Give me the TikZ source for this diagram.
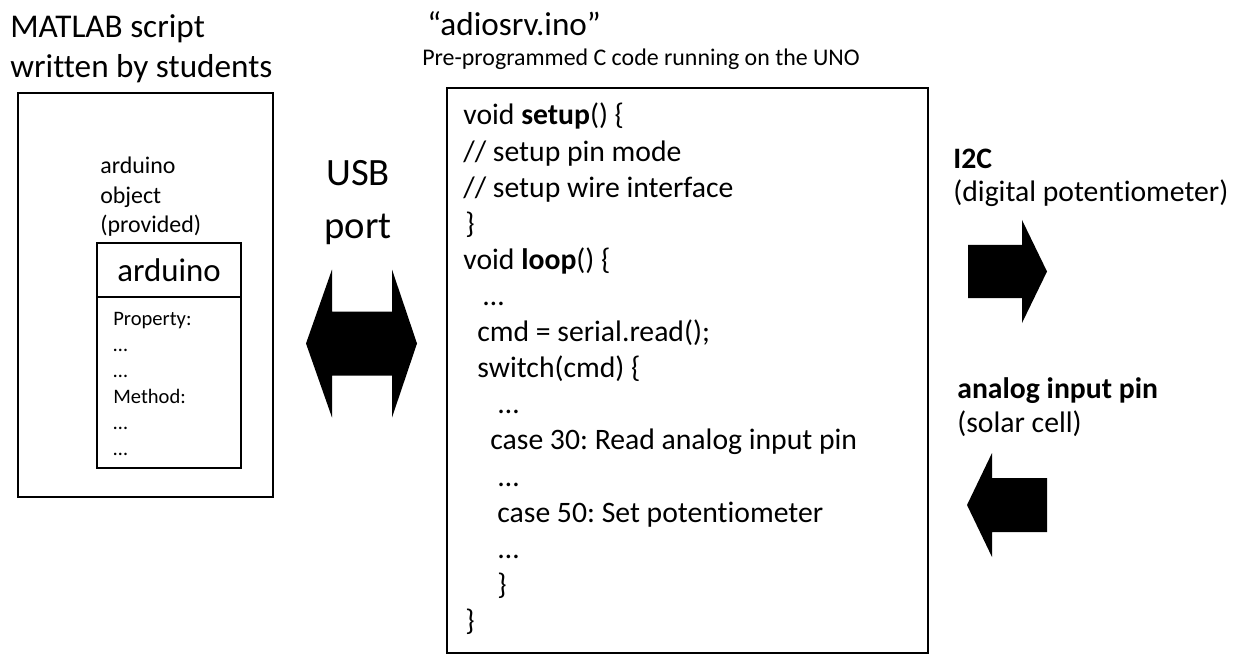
\documentclass[tikz,border=0pt]{standalone}
\usepackage{fontspec}
\setmainfont{Carlito}[Ligatures=NoCommon]
\frenchspacing
\usetikzlibrary{positioning}

\begin{document}
\begin{tikzpicture}[x=0.02cm, y=-0.02cm,
    frame_box/.style={draw=black, line width=1.5pt, inner sep=0pt},
    class_cell/.style={draw=black, line width=1.5pt, inner sep=0pt, minimum width=2.88cm},
    title_text/.style={anchor=base west, inner sep=0pt, align=left, font=\fontsize{18.9}{23.2}\selectfont},
    note_text/.style={anchor=base west, inner sep=0pt, align=left, font=\fontsize{13.6}{17}\selectfont},
    code_line/.style={anchor=base west, inner sep=0pt, font=\fontsize{16.9}{20.5}\selectfont},
    port_text/.style={anchor=base west, inner sep=0pt, align=left, font=\fontsize{16.9}{19.3}\selectfont},
    block_arrow/.style={fill=black}
]
    \useasboundingbox (0,0) rectangle (1247,655);

    % MATLAB side (multi-line nodes sit on their last baseline)
    \node[title_text] (matlab_title) at (10,78) {MATLAB script\\written by students};
    \node[frame_box, minimum width=5.1cm, minimum height=8.08cm] (matlab_box) at (145.5,295) {};
    \node[note_text] (obj_note) at (100,233) {arduino\\object\\(provided)};

    % arduino class box (header + members)
    \node[class_cell, minimum height=1.08cm, font=\fontsize{18.7}{23}\selectfont] (ard_head) at (169,270) {arduino};
    \node[class_cell, minimum height=3.42cm, below=-\pgflinewidth of ard_head] (ard_body) {};
    \node[anchor=base west, inner sep=0pt, align=left, font=\fontsize{11.7}{14.7}\selectfont] (ard_members)
        at (113,455) {Property:\\…\\…\\Method:\\…\\…};

    % USB link
    \node[anchor=base, inner sep=0pt, align=center, font=\fontsize{22}{30}\selectfont] (usb_label) at (358,238) {USB\\port};
    \fill[block_arrow] (306,343.5) -- (332,269.5) -- (332,311.5) -- (392,311.5) -- (392,269.5)
        -- (417,343.5) -- (392,417.5) -- (392,375.5) -- (332,375.5) -- (332,417.5) -- cycle;

    % Arduino sketch
    \node[title_text] (ino_title) at (427,36) {“adiosrv.ino”};
    \node[note_text] (ino_note) at (422,66) {Pre-programmed C code running on the UNO};
    \node[frame_box, minimum width=9.62cm, minimum height=11.3cm] (ino_box) at (687.5,370.5) {};

    \foreach \xx/\txt [count=\i] in {
        463/{void \textbf{setup}() \{},
        463/{// setup pin mode},
        463/{// setup wire interface},
        465/{\}},
        463/{void \textbf{loop}() \{},
        483/{…},
        477/{cmd = serial.read();},
        477/{switch(cmd) \{},
        498/{…},
        490/{case 30: Read analog input pin},
        498/{…},
        497/{case 50: Set potentiometer},
        498/{…},
        497/{\}},
        465/{\}}}
        \node[code_line] (code\i) at (\xx,{125+36.1*(\i-1)}) {\txt};

    % I2C output
    \node[port_text] (i2c_label) at (953,202) {\textbf{I2C}\\(digital potentiometer)};
    \fill[block_arrow] (968,245) -- (1022,245) -- (1022,220) -- (1047,271.5) -- (1022,323)
        -- (1022,298) -- (968,298) -- cycle;

    % analog input
    \node[port_text] (adc_label) at (957,432) {\textbf{analog input pin}\\(solar cell)};
    \fill[block_arrow] (967,505) -- (992,453) -- (992,478) -- (1047,478) -- (1047,532)
        -- (992,532) -- (992,557) -- cycle;

\end{tikzpicture}
\end{document}
